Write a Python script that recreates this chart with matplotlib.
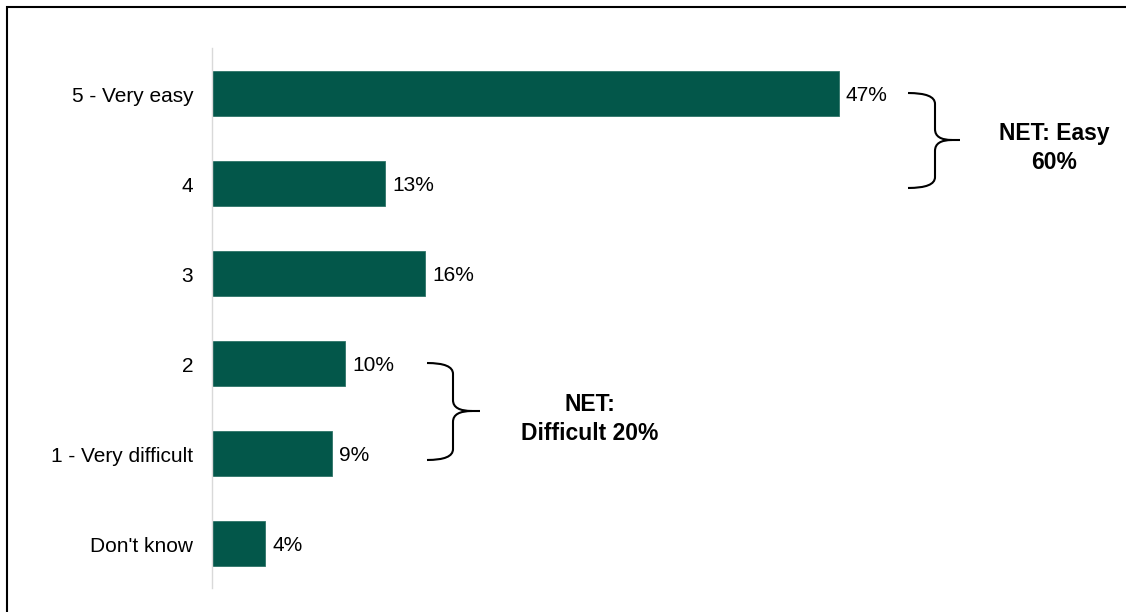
import matplotlib
matplotlib.use("Agg")
import matplotlib.pyplot as plt
from matplotlib.path import Path
from matplotlib.patches import PathPatch, Rectangle
from matplotlib.transforms import ScaledTranslation

categories = ["5 - Very easy", "4", "3", "2", "1 - Very difficult", "Don't know"]
values = [47, 13, 16, 10, 9, 4]
net_easy_label = "NET: Easy\n60%"
net_difficult_label = "NET:\nDifficult 20%"

plt.rcParams["font.family"] = ["Liberation Sans", "DejaVu Sans"]

W, H = 1126, 612
fig = plt.figure(figsize=(W / 100, H / 100), dpi=100)

# frame around the whole chart
fig.patches.append(Rectangle((7 / W, -0.01), 1.02, 1 - 7 / H + 0.01, transform=fig.transFigure,
                             fill=False, edgecolor="black", linewidth=1.5))

ax_left, ax_right, ax_top, ax_bottom = 212, 1100, 48, 588
ax = fig.add_axes([ax_left / W, 1 - ax_bottom / H, (ax_right - ax_left) / W, (ax_bottom - ax_top) / H])
px_per_unit = 13.34
ax.set_xlim(0, (ax_right - ax_left) / px_per_unit)
ax.set_ylim(len(categories) - 0.5, -0.5)

bar_color = "#03574A"
ypos = list(range(len(categories)))
ax.barh(ypos, values, height=0.5, color=bar_color, edgecolor="#2E7468", linewidth=0.6)

for y, v in zip(ypos, values):
    ax.text(v + 0.5, y + 0.03, f"{v}%", va="center", ha="left", fontsize=15, color="black")

ax.set_yticks(ypos)
ax.set_yticklabels(categories, fontsize=15)
ax.tick_params(axis="y", length=0, pad=13.5)
shift_down = ScaledTranslation(0, -2 / 100, fig.dpi_scale_trans)
for lbl in ax.get_yticklabels():
    lbl.set_transform(lbl.get_transform() + shift_down)
ax.set_xticks([])
for side in ["top", "right", "bottom"]:
    ax.spines[side].set_visible(False)
ax.spines["left"].set_color("#D9D9D9")
ax.spines["left"].set_linewidth(1.0)


def brace(ax, x0, x1, x2, ytop, ymid, ybot, r=0.12, rx=0.6):
    verts = [
        (x0, ytop),
        (x1, ytop), (x1, ytop + r),
        (x1, ymid - r),
        (x1, ymid), (x2 - rx, ymid),
        (x2, ymid),
        (x2 - rx, ymid), (x1, ymid),
        (x1, ymid + r),
        (x1, ybot - r),
        (x1, ybot), (x0, ybot),
    ]
    codes = [Path.MOVETO,
             Path.CURVE3, Path.CURVE3,
             Path.LINETO,
             Path.CURVE3, Path.CURVE3,
             Path.LINETO,
             Path.MOVETO, Path.CURVE3,
             Path.CURVE3,
             Path.LINETO,
             Path.CURVE3, Path.CURVE3]
    ax.add_patch(PathPatch(Path(verts, codes), fill=False, edgecolor="black",
                           linewidth=1.5, clip_on=False, capstyle="butt"))


def px_x(px):
    return (px - ax_left) / px_per_unit


def px_y(py):
    return (py - 93) / 90.0


brace(ax, px_x(908), px_x(935), px_x(960), px_y(93), px_y(140), px_y(188))
brace(ax, px_x(427), px_x(453), px_x(480), px_y(363), px_y(411), px_y(460))

ax.text(px_x(1054), px_y(148), net_easy_label, ha="center", va="center",
        fontsize=16.5, fontweight="bold", linespacing=1.3)
ax.text(px_x(590), px_y(419), net_difficult_label, ha="center", va="center",
        fontsize=16.5, fontweight="bold", linespacing=1.3)

fig.savefig("out.png", dpi=100)
